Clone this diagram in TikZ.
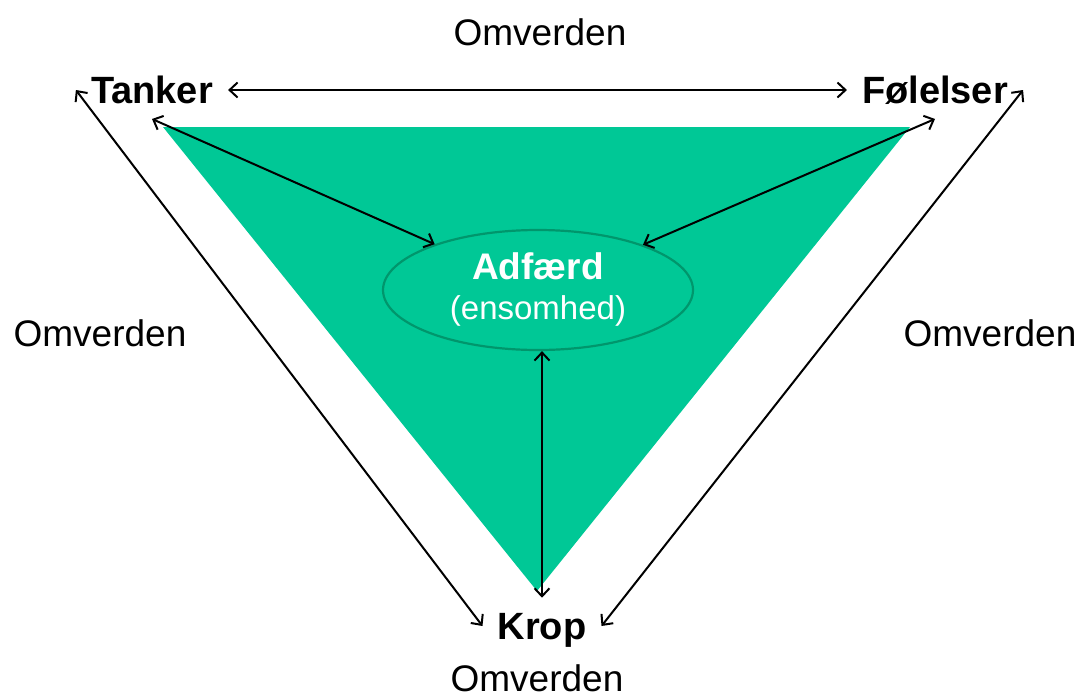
\documentclass[tikz,border=0pt]{standalone}
\usepackage{fontspec}
\setmainfont{Liberation Sans}
\usepackage{tikz}
\usetikzlibrary{shapes.geometric,arrows.meta}

\definecolor{trekant}{RGB}{0,200,150}
\definecolor{kant}{RGB}{0,150,108}

\begin{document}
\begin{tikzpicture}[x=1pt,y=-1pt,
    every node/.style={font=\fontsize{37}{44}\selectfont},
    hjorne/.style={font=\fontsize{38}{44}\selectfont\bfseries,inner sep=15pt,text depth=0pt},
    pil/.style={line width=2pt,{Straight Barb[length=8pt,width=15pt]}-{Straight Barb[length=8pt,width=15pt]}}]
  \useasboundingbox (0,0) rectangle (1088,697);
  % trekanten
  \fill[trekant] (163,127) -- (910,127) -- (537,591) -- cycle;
  \node[ellipse,draw=kant,line width=2.2pt,fill=trekant,minimum width=310pt,minimum height=120pt,
    inner sep=0pt,align=center,text=white] (adfaerd) at (538,290)
    {\textbf{Adfærd}\\[-4pt]\fontsize{33}{40}\selectfont(ensomhed)};
  % hjornerne
  \node[hjorne] (tanker) at (152,90) {Tanker};
  \node[hjorne] (folelser) at (935,90) {Følelser};
  \node[hjorne] (krop) at (542,626) {Krop};
  % omverden
  \node (omTop) at (540,32) {Omverden};
  \node (omVen) at (100,333) {Omverden};
  \node (omHoj) at (990,333) {Omverden};
  \node (omBund) at (537,678) {Omverden};
  % pile
  \draw[pil] (tanker.east) -- (folelser.west);
  \draw[pil] (tanker.west) -- (krop.west);
  \draw[pil] (folelser.east) -- (krop.east);
  \draw[pil] (tanker.south) -- (adfaerd);
  \draw[pil] (folelser.south) -- (adfaerd);
  \draw[pil] (krop.north) -- (krop.north |- adfaerd.south);
\end{tikzpicture}
\end{document}
